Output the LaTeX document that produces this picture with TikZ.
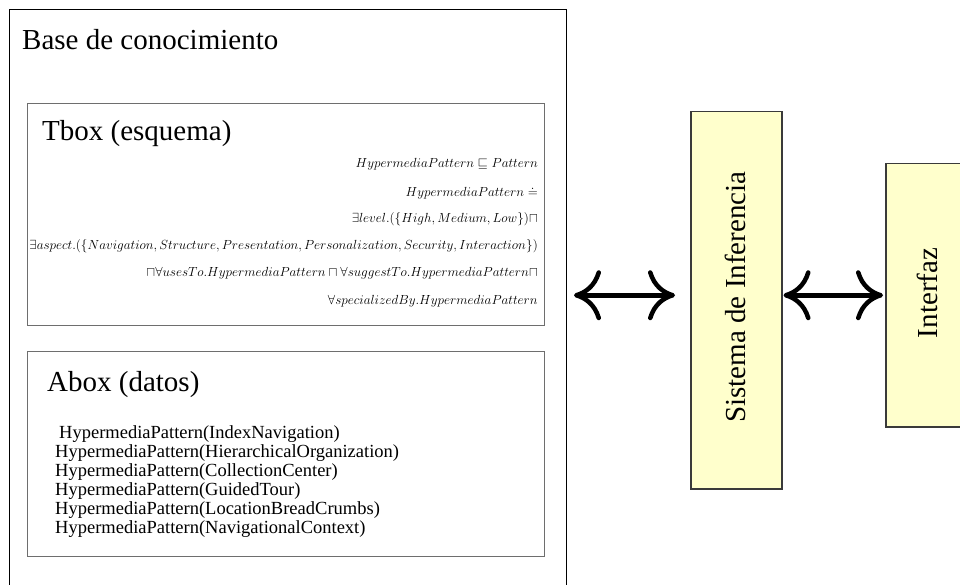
\documentclass[tikz,border=0pt]{standalone}
\usepackage{fix-cm}
\usepackage{fontspec}
\usepackage{amssymb}
\setmainfont{Liberation Serif}
\usetikzlibrary{arrows.meta}
\definecolor{paleyellow}{HTML}{FFFFCC}
\definecolor{framegray}{HTML}{6E6E6E}
\definecolor{boxedge}{HTML}{3A3A3A}

\begin{document}
\begin{tikzpicture}[x=1pt,y=-1pt,
  frame/.style={draw=black, line width=1pt, anchor=north west, inner sep=0pt},
  panel/.style={draw=framegray, line width=1.4pt, anchor=north west, inner sep=0pt},
  module/.style={draw=boxedge, fill=paleyellow, line width=1.5pt, anchor=north west, inner sep=0pt},
  heading/.style={anchor=base west, inner sep=0pt, font=\fontsize{29}{34}\selectfont},
  axiom/.style={anchor=base east, inner sep=0pt, font=\fontsize{13.2}{15}\selectfont},
  fact/.style={anchor=base west, inner sep=0pt, font=\fontsize{18.5}{19}\selectfont},
  vlabel/.style={rotate=90, inner sep=0pt, font=\fontsize{29}{34}\selectfont},
  biarrow/.style={line width=4.5pt, {Computer Modern Rightarrow[length=27pt, width=50pt]}-{Computer Modern Rightarrow[length=27pt, width=50pt]}}
]
\useasboundingbox (0,0) rectangle (960,585);
\clip (0,0) rectangle (960,585);

% knowledge base frame with its two parts
\node[frame, minimum width=557pt, minimum height=620pt] (kb) at (9,9) {};
\node[heading] (kbtitle) at (22,50) {Base de conocimiento};

\node[panel, minimum width=517pt, minimum height=222pt] (tbox) at (27,103) {};
\node[heading] (tboxtitle) at (42,141) {Tbox (esquema)};
\node[axiom] (ax1) at (538,168) {$HypermediaPattern \sqsubseteq Pattern$};
\node[axiom] (ax2) at (538,197) {$HypermediaPattern \doteq$};
\node[axiom] (ax3) at (538,223) {$\exists level.(\{High, Medium, Low\}) \sqcap$};
\node[axiom] (ax4) at (538,249) {$\exists aspect.(\{Navigation, Structure, Presentation, Personalization, Security, Interaction\})$};
\node[axiom] (ax5) at (538,276) {$\sqcap \forall usesTo.HypermediaPattern \sqcap \forall suggestTo.HypermediaPattern \sqcap$};
\node[axiom] (ax6) at (538,304) {$\forall specializedBy.HypermediaPattern$};

\node[panel, minimum width=517pt, minimum height=205pt] (abox) at (27,351) {};
\node[heading] (aboxtitle) at (47,391) {Abox (datos)};
\node[fact] (f1) at (59,438) {HypermediaPattern(IndexNavigation)};
\node[fact] (f2) at (55,457) {HypermediaPattern(HierarchicalOrganization)};
\node[fact] (f3) at (55,476) {HypermediaPattern(CollectionCenter)};
\node[fact] (f4) at (55,495) {HypermediaPattern(GuidedTour)};
\node[fact] (f5) at (55,514) {HypermediaPattern(LocationBreadCrumbs)};
\node[fact] (f6) at (55,533) {HypermediaPattern(NavigationalContext)};

% inference engine and interface
\node[module, minimum width=91pt, minimum height=377pt] (sis) at (690,111) {};
\node[vlabel] (sislabel) at (735.5,297) {Sistema de Inferencia};

\node[module, minimum width=90pt, minimum height=263pt] (inter) at (885,163) {};
\node[vlabel] (interlabel) at (927,293) {Interfaz};

% two-way links
\draw[biarrow, shorten <=7pt, shorten >=15pt] (kb.east |- inter.west) -- (sis.west |- inter.west);
\draw[biarrow, shorten <=1pt, shorten >=2pt] (sis.east |- inter.west) -- (inter.west);
\end{tikzpicture}
\end{document}
